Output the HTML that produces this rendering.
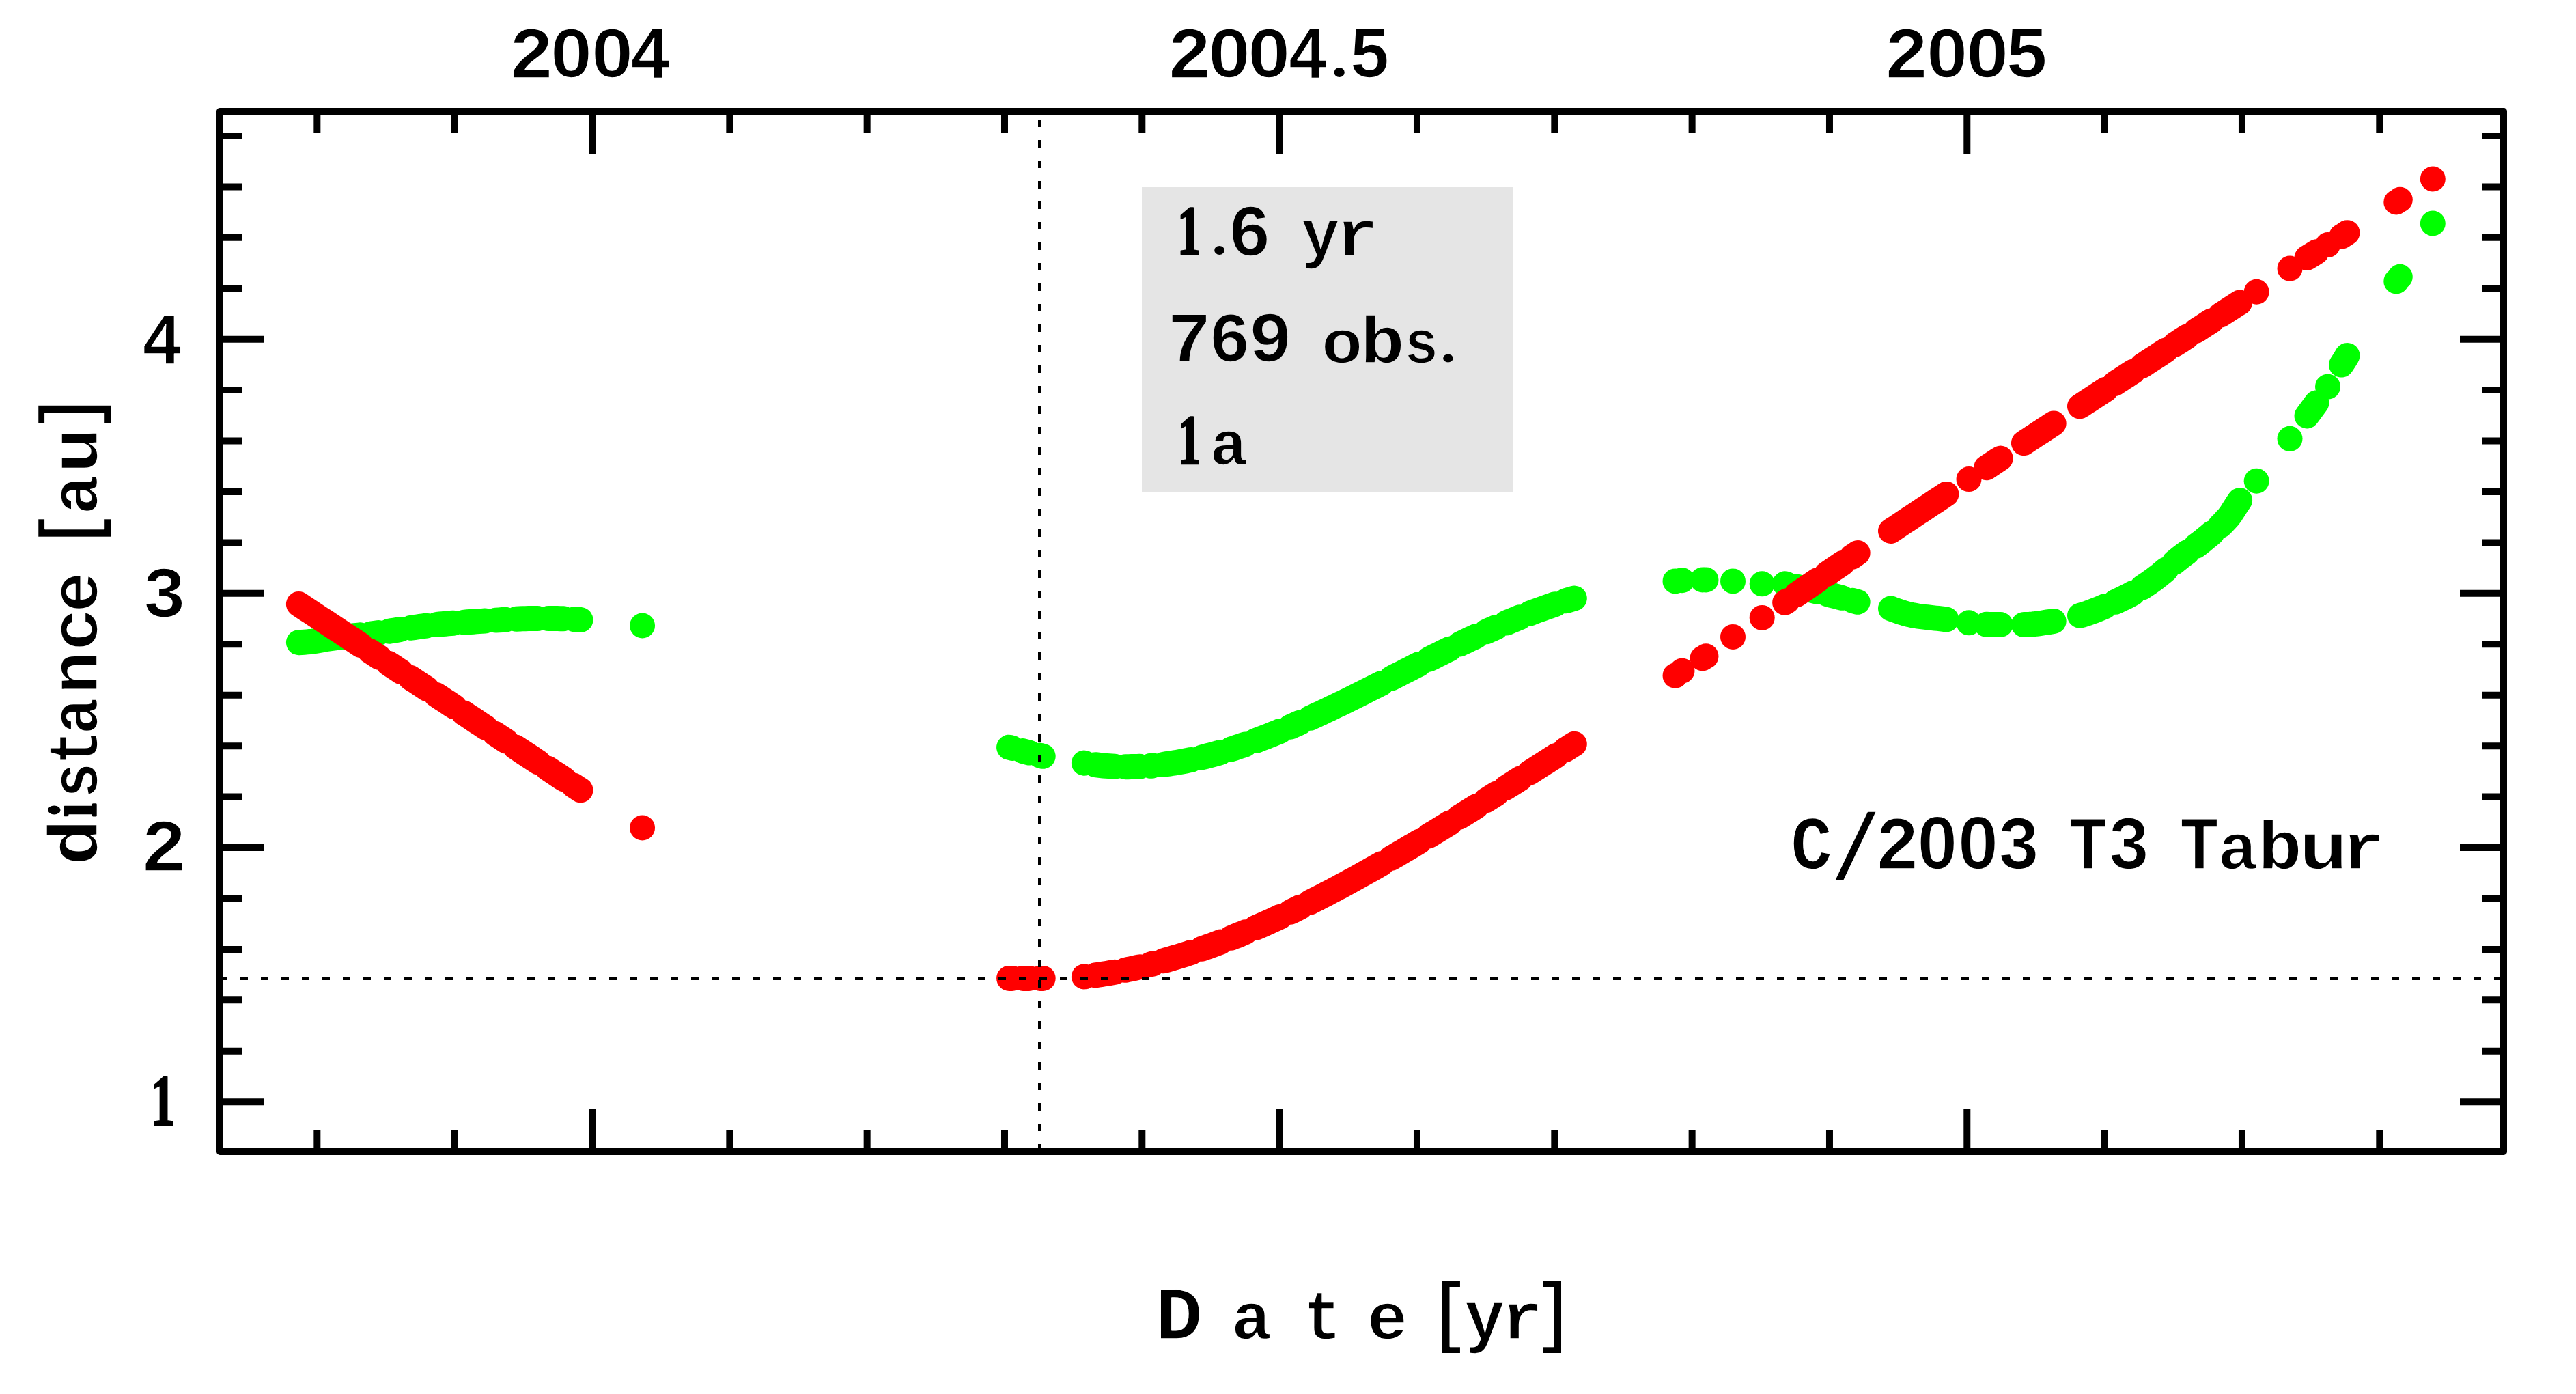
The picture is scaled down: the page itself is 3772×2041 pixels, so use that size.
<!DOCTYPE html>
<html><head><meta charset="utf-8"><title>C/2003 T3 Tabur distance</title>
<style>html,body{margin:0;padding:0;background:#fff;overflow:hidden;} svg{display:block;}</style></head>
<body>
<svg width="3772" height="2041" viewBox="0 0 3772 2041">
<rect x="0" y="0" width="3772" height="2041" fill="#ffffff"/>
<rect x="1672" y="274" width="544" height="447" fill="#e5e5e5"/>
<g fill="#00ff00">
<circle cx="940.55" cy="916" r="18.5"/>
<circle cx="2453" cy="850.9" r="18.5"/>
<circle cx="2463" cy="849.7" r="18.5"/>
<circle cx="2493" cy="849" r="18.5"/>
<circle cx="2498" cy="849" r="18.5"/>
<circle cx="2537.5" cy="850.9" r="18.5"/>
<circle cx="2580.2" cy="854.8" r="18.5"/>
<circle cx="3353" cy="642.3" r="18.5"/>
<circle cx="3408.5" cy="566.2" r="18.5"/>
<circle cx="3508.8" cy="411.9" r="18.5"/>
<circle cx="3514.3" cy="405.3" r="18.5"/>
<circle cx="3562.3" cy="327" r="18.5"/>
<circle cx="2883" cy="911.81" r="18.5"/>
<circle cx="3304.2" cy="704.22" r="18.5"/>
</g>
<g fill="none" stroke="#00ff00" stroke-width="37.0" stroke-linecap="round" stroke-linejoin="round">
<path d="M437.4,940.7 L441.48,940.5 L445.55,940.23 L449.63,939.9 L453.7,939.53 L457.78,939.04 L461.85,938.43 L465.93,937.74 L470,937 L474.08,936.27 L478.15,935.58 L482.23,934.97 L486.3,934.43 L490.38,933.91 L494.45,933.41 L498.53,932.93 L502.6,932.47 L506.68,932.02 L510.75,931.57 L514.83,931.14 L518.9,930.71 L522.98,930.27 L527.05,929.83 M542.95,928.04 L548.52,927.35 L554.09,926.62 M569.91,924.23 L573.95,923.57 L578,922.91 L582.04,922.25 L586.09,921.6 M601.91,919.24 L606.34,918.6 L610.77,917.97 L615.2,917.34 L619.63,916.73 L624.05,916.14 M639.95,914.31 L643.96,913.92 L647.97,913.55 L651.98,913.2 L656,912.87 L660.01,912.55 L664.02,912.24 M679.98,911.09 L684.27,910.79 L688.56,910.5 L692.85,910.2 L697.14,909.91 L701.43,909.63 L705.72,909.35 L710.01,909.08 M725.99,908.12 L730.66,907.85 L735.34,907.59 L740.02,907.33 M755.98,906.32 L760.41,906.06 L764.85,905.85 L769.28,905.7 L773.71,905.61 L778.14,905.6 L782.57,905.6 L787,905.6 M803,905.6 L807.4,905.6 L811.81,905.6 L816.21,905.6 L820.61,905.67 L825.02,905.81 M840.98,906.79 L845.49,907.14 L850,907.5"/>
<path d="M1477.6,1094.2 L1482.27,1095.43 M1497.73,1099.52 L1502.5,1100.78 L1507.27,1102.03 M1522.73,1106.12 L1527.2,1107.3"/>
<path d="M1587.4,1117.11 L1588.09,1117.23 M1603.91,1119.65 L1607.92,1120.14 L1611.94,1120.59 L1615.95,1121 L1619.96,1121.36 L1623.98,1121.67 L1627.99,1121.94 L1632,1122.17 M1648,1122.64 L1652.2,1122.66 L1656.4,1122.62 L1660.61,1122.54 L1664.81,1122.42 L1669.02,1122.25 M1684.98,1121.23 L1688.05,1120.96 M1703.95,1119.23 L1707.98,1118.7 L1712,1118.13 L1716.03,1117.53 L1720.05,1116.9 L1724.08,1116.23 L1728.1,1115.52 L1732.12,1114.79 L1736.15,1114.02 L1740.17,1113.21 L1744.2,1112.38 M1759.8,1108.84 L1764.39,1107.71 L1768.98,1106.54 L1773.57,1105.33 L1778.16,1104.09 L1782.75,1102.81 L1787.34,1101.49 M1802.66,1096.84 L1806.82,1095.52 L1810.98,1094.16 L1815.14,1092.78 L1819.31,1091.37 L1823.47,1089.94 M1838.53,1084.54 L1842.54,1083.05 L1846.55,1081.54 L1850.56,1080.01 L1854.57,1078.45 L1858.58,1076.88 L1862.6,1075.29 L1866.61,1073.68 L1870.62,1072.05 L1874.63,1070.4 M1889.37,1064.19 L1894.15,1062.12 L1898.93,1060.04 L1903.7,1057.93 M1918.3,1051.37 L1922.32,1049.53 L1926.34,1047.68 L1930.36,1045.81 L1934.38,1043.93 L1938.41,1042.04 L1942.43,1040.14 L1946.45,1038.23 L1950.47,1036.31 L1954.49,1034.38 L1958.52,1032.43 L1962.54,1030.48 L1966.56,1028.52 L1970.58,1026.55 L1974.6,1024.58 L1978.63,1022.59 L1982.65,1020.6 L1986.67,1018.61 L1990.69,1016.6 L1994.71,1014.59 L1998.74,1012.58 L2002.76,1010.56 L2006.78,1008.53 L2010.8,1006.51 L2014.82,1004.47 L2018.85,1002.44 L2022.87,1000.4 M2037.13,993.16 L2041.2,991.09 L2045.28,989.01 L2049.35,986.94 L2053.42,984.87 L2057.49,982.8 L2061.57,980.73 L2065.64,978.67 L2069.71,976.6 L2073.78,974.54 L2077.85,972.48 M2092.15,965.29 L2096.53,963.1 L2100.9,960.91 L2105.28,958.73 L2109.66,956.56 L2114.04,954.4 L2118.42,952.24 L2122.8,950.1 M2137.2,943.11 L2141.29,941.15 L2145.37,939.2 L2149.46,937.27 L2153.55,935.34 L2157.64,933.42 L2161.73,931.52 M2176.27,924.85 L2181.07,922.7 L2185.86,920.56 L2190.66,918.44 M2205.34,912.1 L2209.39,910.39 L2213.43,908.7 L2217.47,907.03 L2221.51,905.38 L2225.55,903.74 M2240.45,897.9 L2244.55,896.33 L2248.65,894.79 L2252.76,893.27 L2256.86,891.78 L2260.97,890.31 L2265.07,888.86 L2269.17,887.43 L2273.28,886.03 L2277.38,884.66 M2292.62,879.79 L2296.85,878.5 L2301.07,877.24 L2305.3,876.02"/>
<path d="M2613.6,854.87 L2616.22,855.49 M2631.78,859.17 L2635.85,860.14 L2639.91,861.12 L2643.98,862.1 L2648.04,863.08 L2652.11,864.07 L2656.17,865.06 L2660.23,866.06 M2675.77,869.9 L2680.06,870.97 L2684.36,872.05 L2688.66,873.13 L2692.96,874.22 L2697.26,875.32 M2712.74,879.34 L2720.2,881.3"/>
<path d="M2768.5,890.96 L2772.57,892.47 L2776.65,893.93 L2780.72,895.33 L2784.8,896.65 L2788.88,897.88 L2792.95,899 L2797.03,899.99 L2801.1,900.83 L2805.18,901.55 L2809.25,902.18 L2813.32,902.74 L2817.4,903.26 L2821.47,903.74 L2825.55,904.18 L2829.62,904.62 L2833.7,905.04 L2837.78,905.48 L2841.85,905.94 L2845.93,906.44 L2850,906.98"/>
<path d="M2908.6,914.18 L2912.74,914.39 L2916.88,914.49 L2921.02,914.5 L2925.16,914.5 L2929.3,914.5"/>
<path d="M2963.4,914.5 L2967.78,914.46 L2972.16,914.26 L2976.54,913.91 L2980.92,913.44 L2985.3,912.87 L2989.68,912.23 L2994.06,911.55 L2998.44,910.86 L3002.82,910.18 L3007.2,909.51"/>
<path d="M3045.5,901.25 L3049.63,900.11 L3053.75,898.84 L3057.88,897.45 L3062.01,895.95 L3066.13,894.37 L3070.26,892.72 L3074.39,891.03 L3078.51,889.31 L3082.64,887.58 M3097.36,881.3 L3101.66,879.36 L3105.97,877.35 L3110.27,875.27 L3114.58,873.11 L3118.88,870.84 L3123.18,868.46 M3136.82,860.11 L3141.21,857.18 L3145.6,854.17 L3150,851.07 L3154.39,847.91 L3158.78,844.63 L3163.18,841.14 L3167.57,837.48 L3171.96,833.71 M3184.04,823.26 L3188.66,819.4 L3193.28,815.73 L3197.89,812.23 L3202.51,808.83 M3215.49,799.41 L3220.19,795.88 L3224.9,792.18 L3229.6,788.32 L3234.31,784.45 L3239.01,780.54 M3250.99,769.88 L3255.08,765.86 L3259.16,761.55 L3263.25,756.92 L3267.34,751.39 L3271.43,745.01 L3275.51,738.5 L3279.6,732.6"/>
<path d="M3378,608.9 L3385,599.4 L3392,589.9"/>
<path d="M3428.5,534.1 L3433,527.3 L3437,520.5"/>
</g>
<g fill="#ff0000">
<circle cx="940.55" cy="1212" r="18.5"/>
<circle cx="2453" cy="989.1" r="18.5"/>
<circle cx="2463" cy="982.2" r="18.5"/>
<circle cx="2493" cy="963.8" r="18.5"/>
<circle cx="2498" cy="960.8" r="18.5"/>
<circle cx="2537.5" cy="932.4" r="18.5"/>
<circle cx="2580.2" cy="904.4" r="18.5"/>
<circle cx="3353" cy="393.1" r="18.5"/>
<circle cx="3408.5" cy="358.6" r="18.5"/>
<circle cx="3508.8" cy="296" r="18.5"/>
<circle cx="3514.3" cy="292.3" r="18.5"/>
<circle cx="3562.3" cy="262" r="18.5"/>
<circle cx="2883" cy="701.61" r="18.5"/>
<circle cx="3304.2" cy="427.26" r="18.5"/>
</g>
<g fill="none" stroke="#ff0000" stroke-width="37.0" stroke-linecap="round" stroke-linejoin="round">
<path d="M437.4,884.5 L441.53,887.23 L445.67,889.96 L449.8,892.68 L453.93,895.41 L458.06,898.14 L462.2,900.87 L466.33,903.59 L470.46,906.32 L474.6,909.05 L478.73,911.78 L482.86,914.5 L486.99,917.23 L491.13,919.96 L495.26,922.69 L499.39,925.41 L503.53,928.14 L507.66,930.87 L511.79,933.6 L515.92,936.32 L520.06,939.05 L524.19,941.78 L528.32,944.51 M541.68,953.32 L546.23,956.32 L550.77,959.32 L555.32,962.32 M568.68,971.14 L573.34,974.21 L578,977.29 L582.66,980.37 L587.32,983.44 M600.68,992.26 L604.78,994.97 L608.89,997.68 L613,1000.39 L617.11,1003.1 L621.22,1005.81 L625.32,1008.52 M638.68,1017.34 L643.12,1020.27 L647.56,1023.2 L652,1026.13 L656.44,1029.06 L660.88,1031.99 L665.32,1034.92 M678.68,1043.73 L682.76,1046.43 L686.84,1049.12 L690.92,1051.81 L695,1054.51 L699.08,1057.2 L703.16,1059.89 L707.24,1062.59 L711.32,1065.28 M724.68,1074.09 L728.84,1076.84 L733,1079.58 L737.16,1082.33 L741.32,1085.08 M754.68,1093.89 L758.88,1096.67 L763.09,1099.44 L767.29,1102.22 L771.5,1104.99 L775.71,1107.77 L779.91,1110.54 L784.12,1113.32 L788.32,1116.1 M801.68,1124.91 L805.78,1127.62 L809.89,1130.33 L814,1133.04 L818.11,1135.75 L822.22,1138.46 L826.32,1141.17 M839.68,1149.99 L844.84,1153.39 L850,1156.8"/>
<path d="M1477.6,1432.4 L1482,1432.4 M1498,1432.4 L1502.5,1432.4 L1507,1432.4 M1523,1432.4 L1527.2,1432.4"/>
<path d="M1587.4,1429.96 L1588.06,1429.89 M1603.94,1427.87 L1607.97,1427.3 L1612,1426.7 L1616.03,1426.08 L1620.05,1425.43 L1624.08,1424.76 L1628.11,1424.07 L1632.14,1423.35 M1647.86,1420.33 L1652.13,1419.45 L1656.4,1418.54 L1660.68,1417.6 L1664.95,1416.65 L1669.23,1415.66 M1684.77,1411.87 L1688.27,1410.97 M1703.73,1406.81 L1707.79,1405.67 L1711.86,1404.5 L1715.93,1403.31 L1720,1402.1 L1724.07,1400.87 L1728.14,1399.62 L1732.21,1398.35 L1736.28,1397.06 L1740.35,1395.75 L1744.42,1394.41 M1759.58,1389.28 L1764.24,1387.65 L1768.9,1385.99 L1773.56,1384.31 L1778.22,1382.61 L1782.88,1380.88 L1787.54,1379.12 M1802.46,1373.35 L1806.7,1371.66 L1810.93,1369.96 L1815.17,1368.24 L1819.4,1366.5 L1823.64,1364.75 M1838.36,1358.49 L1842.41,1356.74 L1846.45,1354.97 L1850.5,1353.19 L1854.54,1351.38 L1858.59,1349.57 L1862.63,1347.74 L1866.68,1345.89 L1870.72,1344.03 L1874.77,1342.15 M1889.23,1335.32 L1894.1,1332.98 L1898.97,1330.62 L1903.84,1328.24 M1918.16,1321.12 L1922.2,1319.09 L1926.23,1317.04 L1930.27,1314.98 L1934.3,1312.91 L1938.34,1310.83 L1942.37,1308.73 L1946.41,1306.62 L1950.44,1304.5 L1954.48,1302.37 L1958.51,1300.23 L1962.55,1298.07 L1966.58,1295.91 L1970.62,1293.73 L1974.65,1291.54 L1978.69,1289.34 L1982.72,1287.13 L1986.76,1284.91 L1990.79,1282.68 L1994.83,1280.44 L1998.86,1278.19 L2002.9,1275.93 L2006.93,1273.66 L2010.97,1271.38 L2015,1269.09 L2019.04,1266.79 L2023.07,1264.48 M2036.93,1256.49 L2041.05,1254.09 L2045.17,1251.68 L2049.3,1249.27 L2053.42,1246.84 L2057.54,1244.41 L2061.66,1241.97 L2065.78,1239.52 L2069.91,1237.07 L2074.03,1234.61 L2078.15,1232.14 M2091.85,1223.87 L2096.33,1221.16 L2100.81,1218.43 L2105.29,1215.7 L2109.76,1212.96 L2114.24,1210.21 L2118.72,1207.46 L2123.2,1204.7 M2136.8,1196.28 L2141.04,1193.64 L2145.28,1191 L2149.52,1188.36 L2153.75,1185.71 L2157.99,1183.05 L2162.23,1180.39 M2175.77,1171.87 L2180.93,1168.61 L2186.09,1165.35 L2191.25,1162.08 M2204.75,1153.51 L2209.05,1150.77 L2213.36,1148.04 L2217.66,1145.3 L2221.96,1142.55 L2226.26,1139.81 M2239.74,1131.2 L2244.02,1128.46 L2248.3,1125.73 L2252.58,1122.99 L2256.86,1120.25 L2261.14,1117.51 L2265.42,1114.78 L2269.7,1112.04 L2273.98,1109.3 L2278.26,1106.56 M2291.74,1097.95 L2296.26,1095.06 L2300.78,1092.18 L2305.3,1089.29"/>
<path d="M2613.6,882.2 L2617.39,879.61 M2630.61,870.6 L2635.01,867.6 L2639.4,864.6 L2643.8,861.6 L2648.2,858.6 L2652.6,855.61 L2656.99,852.61 L2661.39,849.61 M2674.61,840.59 L2679.37,837.35 L2684.12,834.1 L2688.88,830.86 L2693.63,827.62 L2698.39,824.37 M2711.61,815.36 L2715.9,812.43 L2720.2,809.5"/>
<path d="M2768.5,777.48 L2772.57,774.77 L2776.65,772.06 L2780.72,769.35 L2784.8,766.64 L2788.88,763.94 L2792.95,761.23 L2797.03,758.52 L2801.1,755.82 L2805.18,753.11 L2809.25,750.41 L2813.32,747.71 L2817.4,745.01 L2821.47,742.31 L2825.55,739.61 L2829.62,736.91 L2833.7,734.21 L2837.78,731.51 L2841.85,728.81 L2845.93,726.11 L2850,723.42"/>
<path d="M2908.6,684.72 L2912.74,681.99 L2916.88,679.26 L2921.02,676.54 L2925.16,673.81 L2929.3,671.09"/>
<path d="M2963.4,648.66 L2967.78,645.79 L2972.16,642.91 L2976.54,640.04 L2980.92,637.16 L2985.3,634.29 L2989.68,631.42 L2994.06,628.54 L2998.44,625.67 L3002.82,622.8 L3007.2,619.93"/>
<path d="M3045.5,594.88 L3049.7,592.14 L3053.9,589.39 L3058.1,586.65 L3062.3,583.91 L3066.5,581.17 L3070.7,578.43 L3074.9,575.69 L3079.1,572.95 L3083.3,570.22 M3096.7,561.48 L3101.13,558.6 L3105.57,555.71 L3110,552.83 L3114.43,549.94 L3118.86,547.06 L3123.29,544.18 M3136.71,535.46 L3141.03,532.66 L3145.35,529.85 L3149.67,527.04 L3154,524.24 L3158.32,521.44 L3162.64,518.63 L3166.96,515.83 L3171.29,513.03 M3184.71,504.33 L3189.11,501.49 L3193.5,498.65 L3197.89,495.8 L3202.28,492.96 M3215.72,484.28 L3220.23,481.36 L3224.74,478.45 L3229.25,475.53 L3233.77,472.62 L3238.28,469.71 M3251.72,461.04 L3256.37,458.04 L3261.02,455.05 L3265.66,452.06 L3270.31,449.06 L3274.95,446.07 L3279.6,443.08"/>
<path d="M3378,377.5 L3385,373.2 L3392,368.8"/>
<path d="M3428.5,346.2 L3433,343.4 L3437,340.7"/>
</g>
<g stroke="#000" stroke-width="5" stroke-dasharray="11 19" fill="none"><line x1="1522.5" y1="1686" x2="1522.5" y2="163"/><line x1="322" y1="1432.5" x2="3666" y2="1432.5"/></g>
<path d="M464.34,163v32M464.34,1686v-32M665.67,163v32M665.67,1686v-32M867,163v63M867,1686v-63M1068.33,163v32M1068.33,1686v-32M1269.66,163v32M1269.66,1686v-32M1470.99,163v32M1470.99,1686v-32M1672.32,163v32M1672.32,1686v-32M1873.65,163v63M1873.65,1686v-63M2074.98,163v32M2074.98,1686v-32M2276.31,163v32M2276.31,1686v-32M2477.64,163v32M2477.64,1686v-32M2678.97,163v32M2678.97,1686v-32M2880.3,163v63M2880.3,1686v-63M3081.63,163v32M3081.63,1686v-32M3282.96,163v32M3282.96,1686v-32M3484.29,163v32M3484.29,1686v-32M322,1613.2h64M3666,1613.2h-64M322,1538.77h32M3666,1538.77h-32M322,1464.33h32M3666,1464.33h-32M322,1389.9h32M3666,1389.9h-32M322,1315.46h32M3666,1315.46h-32M322,1241.03h64M3666,1241.03h-64M322,1166.6h32M3666,1166.6h-32M322,1092.16h32M3666,1092.16h-32M322,1017.73h32M3666,1017.73h-32M322,943.29h32M3666,943.29h-32M322,868.86h64M3666,868.86h-64M322,794.43h32M3666,794.43h-32M322,719.99h32M3666,719.99h-32M322,645.56h32M3666,645.56h-32M322,571.12h32M3666,571.12h-32M322,496.69h64M3666,496.69h-64M322,422.26h32M3666,422.26h-32M322,347.82h32M3666,347.82h-32M322,273.39h32M3666,273.39h-32M322,198.95h32M3666,198.95h-32" stroke="#000" stroke-width="10" fill="none"/>
<rect x="322" y="163" width="3344" height="1523" fill="none" stroke="#000" stroke-width="10" stroke-linejoin="round"/>
<g font-family="Liberation Mono" font-weight="bold" font-size="2048" fill="#000" stroke-linejoin="round" paint-order="fill">
<g>
<text stroke="#ffffff" stroke-width="30.0" transform="matrix(0.054158,0,0,0.052628,744.54,114.30)">2</text>
<text font-family="Liberation Sans" stroke="#ffffff" stroke-width="31.1" transform="matrix(0.053080,0,0,0.049724,806.30,113.31)">0</text>
<text font-family="Liberation Sans" stroke="#ffffff" stroke-width="31.1" transform="matrix(0.053080,0,0,0.049724,866.30,113.31)">0</text>
<text stroke="#ffffff" stroke-width="31.0" transform="matrix(0.049772,0,0,0.053447,921.77,114.30)">4</text>
<text stroke="#ffffff" stroke-width="30.2" transform="matrix(0.053245,0,0,0.052628,1708.75,114.30)">2</text>
<text font-family="Liberation Sans" stroke="#ffffff" stroke-width="30.9" transform="matrix(0.053901,0,0,0.049724,1769.23,113.31)">0</text>
<text font-family="Liberation Sans" stroke="#ffffff" stroke-width="30.9" transform="matrix(0.053901,0,0,0.049724,1827.53,113.31)">0</text>
<text stroke="#ffffff" stroke-width="31.4" transform="matrix(0.048496,0,0,0.053447,1885.26,114.30)">4</text>
<text font-family="Liberation Serif" transform="matrix(0.045783,0,0,0.042169,1949.48,112.28)">.</text>
<text stroke="#ffffff" stroke-width="31.2" transform="matrix(0.050049,0,0,0.052666,1974.89,113.25)">5</text>
<text stroke="#ffffff" stroke-width="30.2" transform="matrix(0.053347,0,0,0.052628,2758.54,114.30)">2</text>
<text font-family="Liberation Sans" stroke="#ffffff" stroke-width="31.3" transform="matrix(0.052464,0,0,0.049724,2821.15,113.31)">0</text>
<text font-family="Liberation Sans" stroke="#ffffff" stroke-width="30.8" transform="matrix(0.054209,0,0,0.049724,2879.21,113.31)">0</text>
<text stroke="#ffffff" stroke-width="30.4" transform="matrix(0.052502,0,0,0.052666,2935.74,113.25)">5</text>
<text stroke="#ffffff" stroke-width="31.4" transform="matrix(0.049499,0,0,0.052335,206.89,532.80)">4</text>
<text stroke="#ffffff" stroke-width="31.0" transform="matrix(0.051841,0,0,0.051400,208.38,902.62)">3</text>
<text stroke="#ffffff" stroke-width="29.6" transform="matrix(0.054868,0,0,0.053358,205.95,1275.30)">2</text>
<text font-family="Liberation Serif" stroke="#000" stroke-width="47.1" transform="matrix(0.035279,0,0,0.051183,220.41,1646.70)">1</text>
<text font-family="Liberation Serif" stroke="#000" stroke-width="48.5" transform="matrix(0.034218,0,0,0.049670,1723.79,372.00)">1</text>
<text font-family="Liberation Serif" transform="matrix(0.044277,0,0,0.039157,1774.32,371.86)">.</text>
<text stroke="#e5e5e5" stroke-width="30.7" transform="matrix(0.051818,0,0,0.052300,1797.72,373.78)">6</text>
<text stroke="#e5e5e5" stroke-width="34.6" transform="matrix(0.045573,0,0,0.047047,1905.57,373.90)">y</text>
<text stroke="#e5e5e5" stroke-width="33.2" transform="matrix(0.050396,0,0,0.046098,1956.32,373.80)">r</text>
<text stroke="#e5e5e5" stroke-width="31.0" transform="matrix(0.052862,0,0,0.050482,1708.88,529.30)">7</text>
<text stroke="#e5e5e5" stroke-width="31.9" transform="matrix(0.049899,0,0,0.050447,1769.86,529.28)">6</text>
<text stroke="#e5e5e5" stroke-width="31.1" transform="matrix(0.052419,0,0,0.050447,1828.12,529.28)">9</text>
<text stroke="#e5e5e5" stroke-width="34.5" transform="matrix(0.049378,0,0,0.043672,1934.66,531.13)">o</text>
<text stroke="#e5e5e5" stroke-width="31.9" transform="matrix(0.053327,0,0,0.047074,1991.43,531.06)">b</text>
<text stroke="#e5e5e5" stroke-width="37.9" transform="matrix(0.040793,0,0,0.043633,2056.26,531.13)">s</text>
<text font-family="Liberation Serif" transform="matrix(0.043675,0,0,0.035843,2109.37,530.36)">.</text>
<text font-family="Liberation Serif" stroke="#000" stroke-width="48.9" transform="matrix(0.033156,0,0,0.050411,1724.56,679.00)">1</text>
<text stroke="#e5e5e5" stroke-width="35.6" transform="matrix(0.045243,0,0,0.044742,1771.50,680.41)">a</text>
<text stroke="#ffffff" stroke-width="30.9" transform="matrix(0.049725,0,0,0.053931,2621.92,1272.28)">C</text>
<text stroke="#ffffff" stroke-width="25.6" transform="matrix(0.058437,0,0,0.066689,2681.30,1288.37)">/</text>
<text stroke="#ffffff" stroke-width="30.1" transform="matrix(0.052535,0,0,0.053948,2745.74,1272.30)">2</text>
<text font-family="Liberation Sans" stroke="#ffffff" stroke-width="30.5" transform="matrix(0.051027,0,0,0.053883,2807.87,1272.28)">0</text>
<text font-family="Liberation Sans" stroke="#ffffff" stroke-width="30.4" transform="matrix(0.051335,0,0,0.053883,2867.24,1272.28)">0</text>
<text stroke="#ffffff" stroke-width="30.8" transform="matrix(0.050194,0,0,0.053928,2924.73,1272.27)">3</text>
<text stroke="#ffffff" stroke-width="31.8" transform="matrix(0.046793,0,0,0.053966,3029.05,1272.30)">T</text>
<text stroke="#ffffff" stroke-width="30.9" transform="matrix(0.049612,0,0,0.053928,3086.59,1272.27)">3</text>
<text stroke="#ffffff" stroke-width="31.6" transform="matrix(0.047425,0,0,0.054188,3191.21,1272.30)">T</text>
<text stroke="#ffffff" stroke-width="34.1" transform="matrix(0.047854,0,0,0.046078,3247.43,1272.18)">a</text>
<text stroke="#ffffff" stroke-width="31.3" transform="matrix(0.052923,0,0,0.049269,3305.99,1272.31)">b</text>
<text stroke="#ffffff" stroke-width="30.5" transform="matrix(0.058588,0,0,0.046915,3366.29,1272.16)">u</text>
<text stroke="#ffffff" stroke-width="33.2" transform="matrix(0.050396,0,0,0.046189,3429.42,1272.30)">r</text>
<text stroke="#ffffff" stroke-width="28.9" transform="matrix(0.056805,0,0,0.053818,1691.53,1959.80)">D</text>
<text stroke="#ffffff" stroke-width="33.6" transform="matrix(0.048134,0,0,0.047237,1803.10,1959.66)">a</text>
<text stroke="#ffffff" stroke-width="33.8" transform="matrix(0.044737,0,0,0.050182,1909.00,1959.65)">t</text>
<text stroke="#ffffff" stroke-width="33.5" transform="matrix(0.048299,0,0,0.047237,2001.87,1959.66)">e</text>
<text stroke="#ffffff" stroke-width="31.6" transform="matrix(0.045847,0,0,0.055841,2094.10,1958.07)">[</text>
<text stroke="#ffffff" stroke-width="32.9" transform="matrix(0.047830,0,0,0.049370,2144.38,1961.02)">y</text>
<text stroke="#ffffff" stroke-width="33.1" transform="matrix(0.049377,0,0,0.047368,2198.42,1959.80)">r</text>
<text stroke="#ffffff" stroke-width="31.6" transform="matrix(0.045847,0,0,0.055841,2247.55,1958.07)">]</text>
<text stroke="#ffffff" stroke-width="30.6" transform="matrix(0,-0.055040,0.049734,0,142.11,1266.94)">d</text>
<text font-family="Liberation Serif" stroke="#000" stroke-width="79.6" transform="matrix(0,-0.033806,0.047854,0,139.80,1195.72)">i</text>
<text stroke="#ffffff" stroke-width="35.7" transform="matrix(0,-0.042116,0.047681,0,142.17,1168.60)">s</text>
<text stroke="#ffffff" stroke-width="35.0" transform="matrix(0,-0.041304,0.050617,0,142.14,1119.75)">t</text>
<text stroke="#ffffff" stroke-width="35.1" transform="matrix(0,-0.043563,0.047683,0,142.17,1075.22)">a</text>
<text stroke="#ffffff" stroke-width="32.4" transform="matrix(0,-0.050980,0.047707,0,142.20,1016.48)">n</text>
<text stroke="#ffffff" stroke-width="32.5" transform="matrix(0,-0.050751,0.047683,0,142.17,952.98)">c</text>
<text stroke="#ffffff" stroke-width="33.5" transform="matrix(0,-0.047911,0.047683,0,142.17,896.29)">e</text>
<text stroke="#ffffff" stroke-width="32.0" transform="matrix(0,-0.044850,0.055788,0,138.79,803.33)">[</text>
<text stroke="#ffffff" stroke-width="33.7" transform="matrix(0,-0.047201,0.047683,0,142.17,753.40)">a</text>
<text stroke="#ffffff" stroke-width="31.3" transform="matrix(0,-0.054795,0.047708,0,142.17,693.10)">u</text>
<text stroke="#ffffff" stroke-width="31.7" transform="matrix(0,-0.045681,0.055788,0,138.79,631.90)">]</text>
</g></g>
</svg></body></html>
